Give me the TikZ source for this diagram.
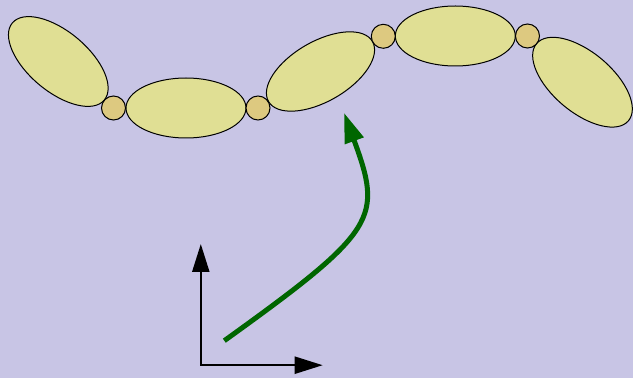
\documentclass[tikz,border=0pt]{standalone}
\usetikzlibrary{arrows.meta}
\definecolor{bgcol}{RGB}{200,197,229}
\definecolor{linkfill}{RGB}{224,223,148}
\definecolor{jointfill}{RGB}{221,201,128}
\definecolor{pathgreen}{RGB}{0,102,0}
\tikzset{
  link/.style={draw=black, line width=1pt, fill=linkfill},
  joint/.style={draw=black, line width=1pt, fill=jointfill},
  axis/.style={line width=2.3pt, {Triangle[length=28pt,width=17pt]}-{Triangle[length=28pt,width=17pt]}},
  motion/.style={draw=pathgreen, line width=5pt, -{Triangle[length=30pt,width=19pt]}}
}
\begin{document}
\begin{tikzpicture}[x=1pt,y=1pt]
  % canvas
  \fill[bgcol] (0,0) rectangle (633,378);
  \useasboundingbox (0,0) rectangle (633,378);

  % joint positions of the chain
  \coordinate (j1) at (113.5,270);
  \coordinate (j2) at (258,270);
  \coordinate (j3) at (383.3,341.7);
  \coordinate (j4) at (527.5,342);

  % links
  \draw[link, rotate around={-40:(58.3,316.5)}] (58.3,316.5) ellipse [x radius=60, y radius=30];
  \draw[link] (186,270) ellipse [x radius=60, y radius=30];
  \draw[link, rotate around={30:(320.5,306.5)}] (320.5,306.5) ellipse [x radius=60, y radius=30];
  \draw[link] (455.3,342) ellipse [x radius=60, y radius=30];
  \draw[link, rotate around={-40:(582.5,295.8)}] (582.5,295.8) ellipse [x radius=60, y radius=30];

  % joints
  \foreach \j in {j1,j2,j3,j4} \draw[joint] (\j) circle [radius=12];

  % frame axes, drawn as one corner path
  \coordinate (o) at (200.8,12.8);
  \coordinate (ox) at (322.7,12.8);
  \coordinate (oy) at (200.8,134);
  \draw[axis] (oy) -- (o) -- (ox);

  % motion arrow
  \coordinate (ms) at (224.3,37.3);
  \coordinate (me) at (344,265.3);
  \draw[motion] (ms) .. controls (378.5,148) and (382.5,160) .. (me);
\end{tikzpicture}
\end{document}
